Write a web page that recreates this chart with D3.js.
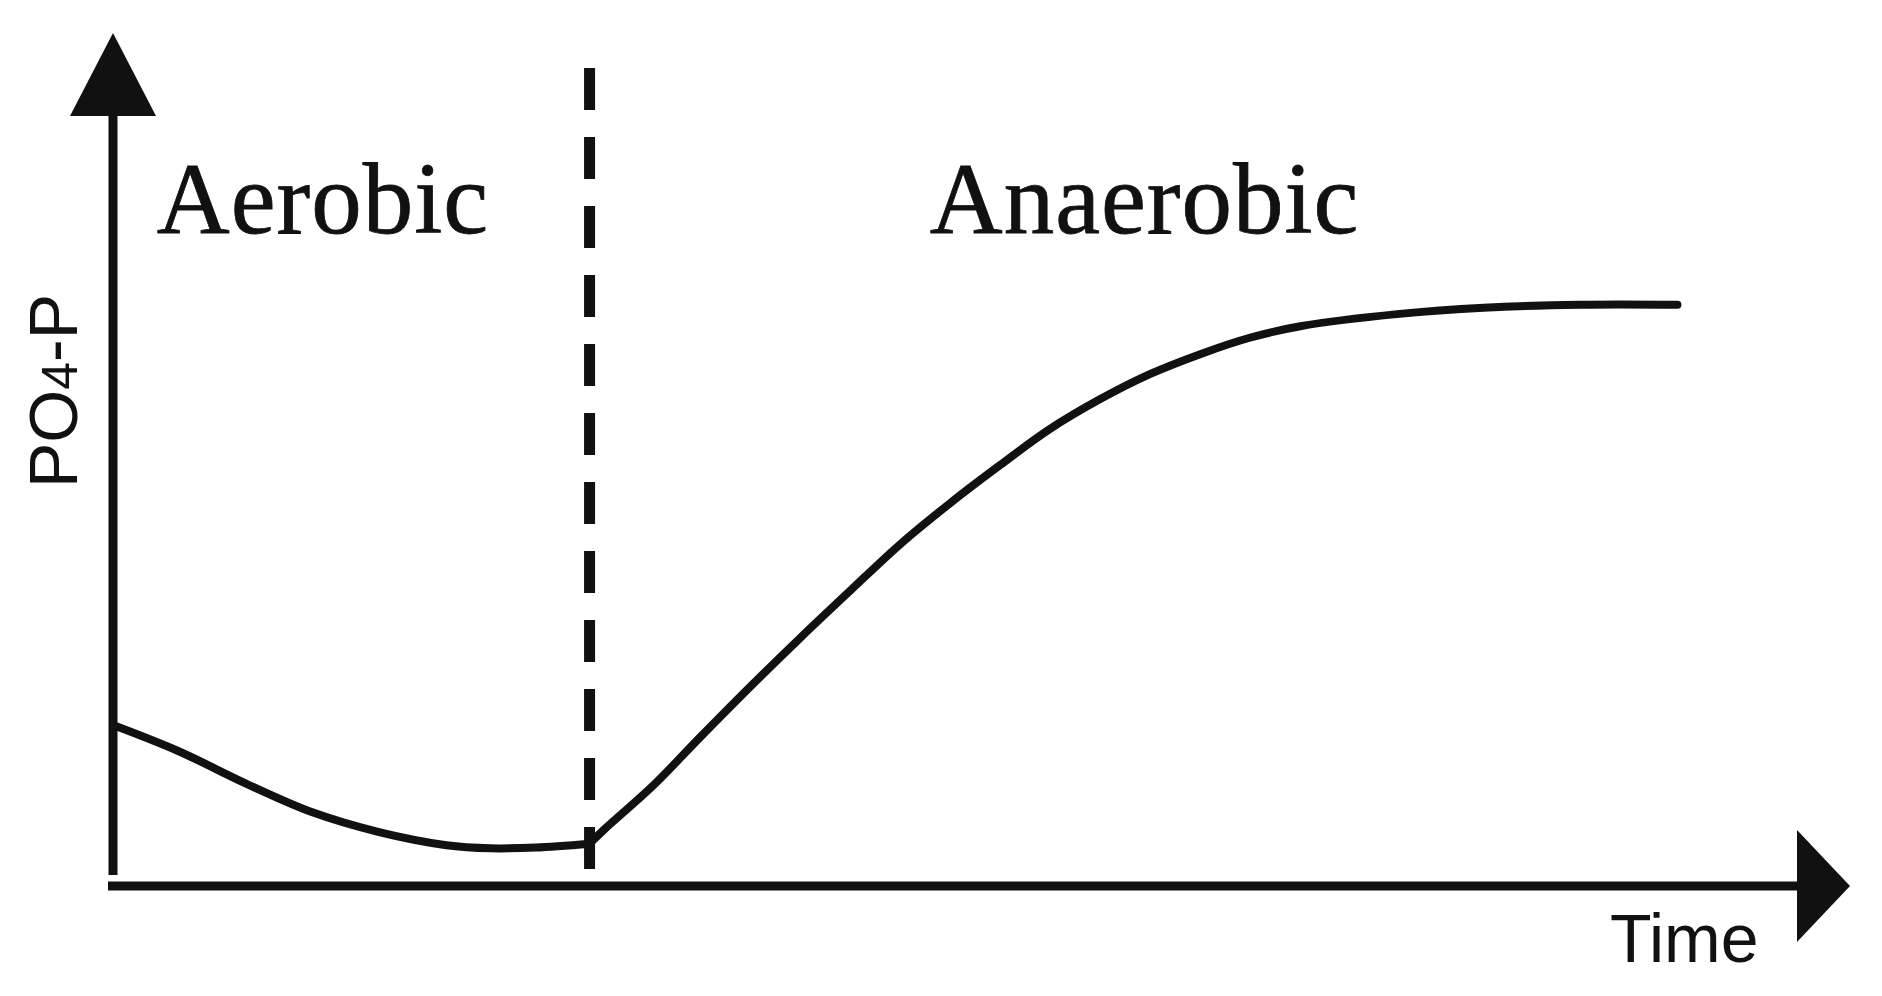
<!DOCTYPE html>
<html>
<head>
<meta charset="utf-8"/>
<script src="https://cdn.jsdelivr.net/npm/d3@7"></script>
<style>
body { margin: 0; background: #fff; }
.axis-line { stroke: #111; stroke-width: 9; fill: none; }
.arrow { fill: #111; }
.curve { stroke: #111; stroke-width: 8; fill: none; stroke-linejoin: round; stroke-linecap: round; }
.switch { stroke: #111; stroke-width: 11; stroke-dasharray: 42 27; }
.phase { font-family: "Liberation Serif", "Times New Roman", serif; font-size: 101px; fill: #111; stroke: #111; stroke-width: 0.8; letter-spacing: 1px; }
.axis-label { font-family: "Liberation Sans", Arial, sans-serif; font-size: 68px; fill: #111; }
</style>
</head>
<body>
<svg id="chart" width="1882" height="996"></svg>
<script>
// time (arbitrary units) and PO4-P (arbitrary units)
var aerobicT = [0, 3.9, 7.9, 11.8, 15.8, 19.8, 22.4, 25.1, 28.3];
var aerobicP = [20.9, 17.5, 13.3, 9.6, 7.0, 5.3, 4.9, 5.0, 5.5];

var anaerobicT = [28.3, 29.2, 32.1, 34.9, 37.8, 40.8, 43.8, 46.7, 49.7, 52.7, 55.6, 58.6, 61.6, 64.6, 67.5, 70.5, 76.4, 81.4, 87.1, 92.9];
var anaerobicP = [5.5, 7.4, 13.1, 19.4, 25.8, 32.2, 38.4, 44.3, 49.7, 54.7, 59.3, 63.2, 66.5, 69.1, 71.2, 72.7, 74.3, 75.1, 75.5, 75.5];

var switchTime = 28.3;
var phaseLabels = ["Aerobic", "Anaerobic"];
var phaseLabelT = [2.6, 48.5];

var svg = d3.select("#chart");

var x = d3.scaleLinear().domain([0, 100]).range([113, 1797]);
var y = d3.scaleLinear().domain([0, 100]).range([886, 116]);

// axes with arrowheads
svg.append("line")
    .attr("class", "axis-line")
    .attr("x1", x(0)).attr("x2", x(0))
    .attr("y1", y(0) - 11).attr("y2", y(100));

svg.append("path")
    .attr("class", "arrow")
    .attr("d", "M" + (x(0) - 43) + "," + y(100) + "L" + x(0) + "," + (y(100) - 83) + "L" + (x(0) + 43) + "," + y(100) + "Z");

svg.append("line")
    .attr("class", "axis-line")
    .attr("x1", x(0) - 5).attr("x2", x(100))
    .attr("y1", y(0)).attr("y2", y(0));

svg.append("path")
    .attr("class", "arrow")
    .attr("d", "M" + x(100) + "," + (y(0) - 56) + "L" + (x(100) + 53) + "," + y(0) + "L" + x(100) + "," + (y(0) + 56) + "Z");

// aerobic / anaerobic switch
svg.append("line")
    .attr("class", "switch")
    .attr("x1", x(switchTime)).attr("x2", x(switchTime))
    .attr("y1", y(100) - 48).attr("y2", y(0) - 14);

var line = d3.line()
    .x(function(d) { return x(d[0]); })
    .y(function(d) { return y(d[1]); })
    .curve(d3.curveCatmullRom.alpha(0.5));

svg.append("path")
    .attr("class", "curve")
    .attr("d", line(d3.zip(aerobicT, aerobicP)));

svg.append("path")
    .attr("class", "curve")
    .attr("d", line(d3.zip(anaerobicT, anaerobicP)));

svg.selectAll(".phase")
    .data(phaseLabels)
    .enter().append("text")
    .attr("class", "phase")
    .attr("x", function(d, i) { return x(phaseLabelT[i]); })
    .attr("y", 233)
    .text(function(d) { return d; });

svg.append("text")
    .attr("class", "axis-label")
    .attr("x", 1610)
    .attr("y", 962)
    .text("Time");

var ylab = svg.append("text")
    .attr("class", "axis-label")
    .attr("transform", "translate(77,488) rotate(-90)");
ylab.append("tspan").text("PO");
ylab.append("tspan").attr("font-size", 50).text("4");
ylab.append("tspan").text("-P");
</script>
</body>
</html>
